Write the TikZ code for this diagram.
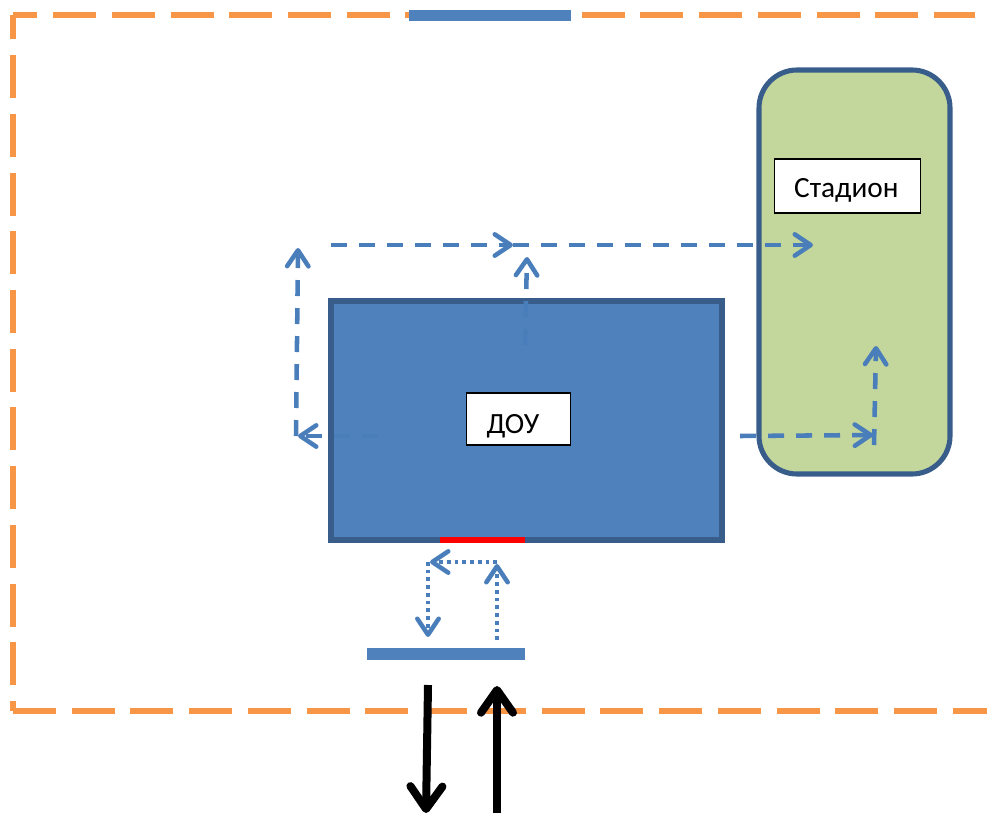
\documentclass[tikz,border=0pt]{standalone}
\usepackage{fontspec}
\setmainfont{Carlito}
\usetikzlibrary{positioning,arrows.meta}
\definecolor{fenceor}{HTML}{F79646}
\definecolor{accblue}{HTML}{4F81BD}
\definecolor{linkblue}{HTML}{4A7EBB}
\definecolor{edgeblue}{HTML}{385D8A}
\definecolor{fieldgr}{HTML}{C3D69B}
\tikzstyle{fence}     = [draw=fenceor, line width=4pt, dash pattern=on 32.25pt off 11.8pt]
\tikzstyle{bar}       = [fill=accblue, inner sep=0pt, outer sep=0pt]
\tikzstyle{building}  = [draw=edgeblue, line width=3.8pt, fill=accblue, inner sep=0pt]
\tikzstyle{field}     = [draw=edgeblue, line width=3.8pt, fill=fieldgr, rounded corners=28.5pt, inner sep=0pt]
\tikzstyle{tag}       = [draw=black, line width=0.9pt, fill=white, inner xsep=15pt, inner ysep=0pt, align=left, text depth=0pt, font=\fontsize{22}{26}\selectfont]
\tikzstyle{route}     = [draw=linkblue, line width=3.4pt, dash pattern=on 12pt off 9pt, -{Straight Barb[length=12pt,width=16pt,round]}]
\tikzstyle{walk}      = [draw=linkblue, line width=3.4pt, dash pattern=on 2.8pt off 3pt, -{Straight Barb[length=12pt,width=16pt,round]}]
\tikzstyle{gateway}   = [draw=black, line width=6pt, -{Straight Barb[length=17pt,width=24pt,round]}]
\begin{document}
\begin{tikzpicture}[x=0.75pt,y=-0.75pt]
	\useasboundingbox (0,0) rectangle (987,813);

	% fence
	\coordinate (fenceA) at (975,15);
	\coordinate (fenceB) at (13,15);
	\coordinate (fenceC) at (13,711);
	\coordinate (fenceD) at (987,711);
	\draw[fence, dash phase=14pt] (fenceB) -- (fenceA);
	\draw[fence, dash phase=14pt] (fenceB) -- (fenceC);
	\draw[fence] (fenceC) -- (fenceD);

	\node (topgate) [bar, minimum width=121.5pt, minimum height=8.25pt] at (490,15.5) {};
	\node (stadium) [field, minimum width=143.25pt, minimum height=303pt] at (854.5,272) {};
	\node (school) [building, minimum width=293.25pt, minimum height=179.25pt] at (526.5,420.5) {};
	\node (door) [fill=red, inner sep=0pt, minimum width=63.75pt, minimum height=4.5pt] at (482.5,540) {};
	\node (gate) [bar, minimum width=118.5pt, minimum height=9pt] at (446,654) {};
	\node (schooltag) [tag, text width=48pt, text height=21.5pt, minimum height=39pt] at (518.5,419) {ДОУ};
	\node (stadiumtag) [tag, text width=80pt, text height=17pt, minimum height=40.5pt] at (847.5,186) {Стадион};

	% dashed routes
	\coordinate (a1) at (378,436);
	\coordinate (a2) at (298,436);
	\coordinate (a3) at (296,436);
	\coordinate (a4) at (298,248);
	\coordinate (b1) at (331,245);
	\coordinate (b2) at (513,245);
	\coordinate (b3) at (813,245);
	\coordinate (c1) at (525,345);
	\coordinate (c2) at (527,257);
	\coordinate (d1) at (740,436);
	\coordinate (d2) at (873,435);
	\coordinate (d3) at (874,445);
	\coordinate (d4) at (876,346);
	\draw[route] (a1) -- (a2);
	\draw[route] (a3) -- (a4);
	\draw[route] (b1) -- (b2);
	\draw[route] (b2) -- (b3);
	\draw[route] (c1) -- (c2);
	\draw[route] (d1) -- (d2);
	\draw[route] (d3) -- (d4);

	% dotted
	\coordinate (e1) at (497,640);
	\coordinate (e2) at (497,564);
	\coordinate (e3) at (497,562);
	\coordinate (e4) at (430,562);
	\coordinate (e5) at (428,562);
	\coordinate (e6) at (428,637);
	\draw[walk] (e1) -- (e2);
	\draw[walk] (e3) -- (e4);
	\draw[walk] (e5) -- (e6);

	% black arrows
	\coordinate (f1) at (428,685);
	\coordinate (f2) at (426,813);
	\coordinate (f3) at (497,813);
	\coordinate (f4) at (497,686);
	\draw[gateway] (f1) -- (f2);
	\draw[gateway] (f3) -- (f4);
\end{tikzpicture}
\end{document}
